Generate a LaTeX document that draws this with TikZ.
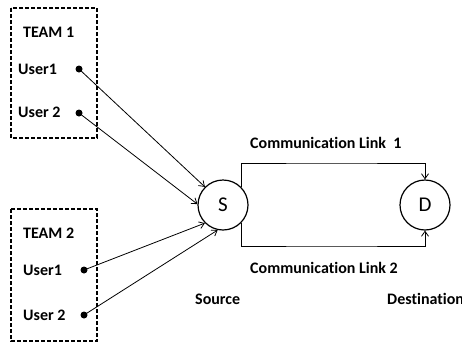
\documentclass[tikz,border=0pt]{standalone}
\usepackage{fontspec}
\setmainfont[Ligatures=NoCommon]{Carlito}
\usetikzlibrary{arrows.meta}
\begin{document}
\begin{tikzpicture}[x=1pt,y=-1pt,
  lbl/.style={anchor=west,inner sep=0pt,font=\fontsize{16}{16}\selectfont\bfseries},
  teambox/.style={draw,line width=1.4pt,dash pattern=on 4pt off 2pt},
  userdot/.style={circle,fill,inner sep=0pt,minimum size=7pt},
  endpoint/.style={circle,draw,line width=1.2pt,minimum size=50pt,inner sep=0pt,font=\fontsize{21}{21}\selectfont},
  link/.style={line width=0.8pt,-{Straight Barb[length=5pt,width=7pt]}}]
\useasboundingbox (0,0) rectangle (462,343);

% team boxes
\draw[teambox] (11,8) rectangle (97,138);
\draw[teambox] (11,209) rectangle (97,341);

\node[lbl] (t1) at (23,32) {TEAM 1};
\node[lbl] (t1u1) at (18,69) {User1};
\node[lbl] (t1u2) at (18,112) {User 2};
\node[lbl] (t2) at (23,233) {TEAM 2};
\node[lbl] (t2u1) at (23,270) {User1};
\node[lbl] (t2u2) at (23,315) {User 2};

% user terminals
\node[userdot] (d1) at (79,69) {};
\node[userdot] (d2) at (79,113) {};
\node[userdot] (d3) at (84,270) {};
\node[userdot] (d4) at (84,315) {};

% source and destination
\node[endpoint] (S) at (223,205) {S};
\node[endpoint] (D) at (425,205) {D};

\draw[link] (d1.center) -- (S.135);
\draw[link] (d2.center) -- (S.178);
\draw[link] (d3.center) -- (S.225);
\draw[link] (d4.center) -- (S.258);

% the two links
\coordinate (top) at (330,163);
\coordinate (bot) at (330,246);
\draw[link] (S.44) |- (top) -| (D.north);
\draw[link] (S.-44) |- (bot) -| (D.south);

\node[lbl] (c1) at (250,143) {Communication Link\ \ 1};
\node[lbl] (c2) at (250,268) {Communication Link 2};
\node[lbl] (src) at (195,299) {Source};
\node[lbl] (dst) at (387,299) {Destination};
\end{tikzpicture}
\end{document}
